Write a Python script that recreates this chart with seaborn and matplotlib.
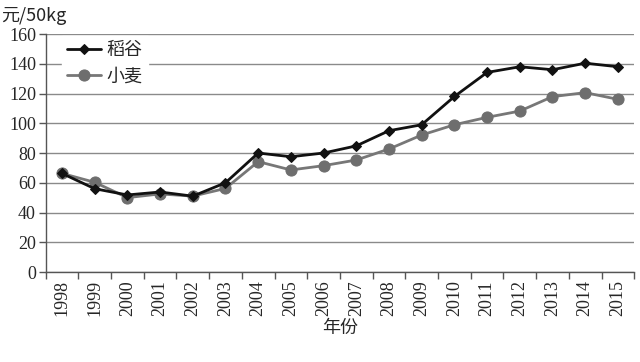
import matplotlib
matplotlib.use("Agg")
import matplotlib.pyplot as plt
import pandas as pd
import seaborn as sns
from matplotlib.ticker import FixedLocator

years = [str(y) for y in range(1998, 2016)]
rice = [66.3, 56.0, 51.8, 53.8, 51.0, 60.0, 80.0, 77.5, 80.0, 84.8, 95.0, 99.0,
        118.0, 134.2, 138.0, 136.0, 140.4, 138.0]
wheat = [66.3, 60.3, 50.0, 52.5, 51.0, 56.2, 74.2, 68.6, 71.5, 75.3, 82.7, 92.1,
         99.0, 104.0, 108.2, 117.9, 120.6, 116.1]
series_names = ["稻谷", "小麦"]

df = pd.DataFrame({
    "x": list(range(len(years))) * 2,
    "价格": rice + wheat,
    "品种": [series_names[0]] * len(years) + [series_names[1]] * len(years),
})

sns.set_theme(style="white")
plt.rcParams['font.family'] = ['Liberation Serif', 'Noto Sans CJK SC']
cjk = ['Noto Sans CJK SC', 'DejaVu Sans']

fig = plt.figure(figsize=(6.4, 3.62), dpi=100)
ax = fig.add_axes([0.0713, 0.2486, 0.9197, 0.6574])

sns.lineplot(data=df, x="x", y="价格", hue="品种", style="品种",
             palette={"稻谷": "#111111", "小麦": "#777777"},
             markers={"稻谷": "D", "小麦": "o"}, dashes=False,
             ax=ax, linewidth=2.0, legend=False)
lines = ax.get_lines()
lines[0].set_markersize(5)
lines[0].set_markeredgecolor("#111111")
lines[1].set_markersize(8)
lines[1].set_markeredgecolor("#6e6e6e")
lines[1].set_markerfacecolor("#6e6e6e")
lines[1].set_zorder(2)
lines[0].set_zorder(3)

ax.set_xlim(-0.5, len(years) - 0.5)
ax.set_ylim(0, 160)
ax.set_yticks(range(0, 161, 20))
ax.yaxis.grid(True, color="#8a8a8a", linewidth=1.0)
ax.set_axisbelow(True)

ax.set_xticks(range(len(years)))
ax.set_xticklabels(years, rotation=90, fontsize=13)
ax.xaxis.set_minor_locator(FixedLocator([i - 0.5 for i in range(len(years) + 1)]))
ax.tick_params(axis="x", which="major", length=0, pad=6)
ax.tick_params(axis="x", which="minor", length=5, width=1, color="#555555", direction="out", bottom=True)
ax.tick_params(axis="y", length=5, width=1, color="#555555", direction="out", left=True, labelsize=13, pad=2)

for s in ["top", "right"]:
    ax.spines[s].set_visible(False)
for s in ["left", "bottom"]:
    ax.spines[s].set_color("#555555")
    ax.spines[s].set_linewidth(1.0)

ax.set_xlabel("年份", family=cjk, fontsize=13, labelpad=2)
ax.set_ylabel("")
fig.text(0.002, 0.955, "元/50kg", family=['Noto Sans CJK SC', 'Liberation Serif'], fontsize=13, va="center", ha="left")

leg = ax.legend(lines, series_names, loc="upper left", bbox_to_anchor=(0.012, 1.03),
                frameon=True, fancybox=False, edgecolor="white", facecolor="white",
                framealpha=1.0, prop={"family": cjk, "size": 13},
                handlelength=1.9, handletextpad=0.3, labelspacing=0.45, borderpad=0.3)

fig.savefig("out.png", dpi=100)
